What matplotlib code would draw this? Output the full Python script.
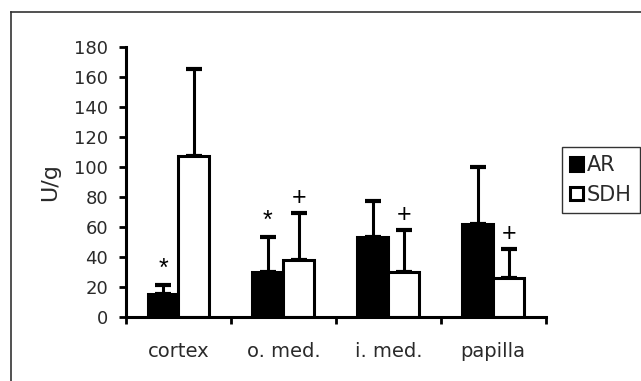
import numpy as np
import matplotlib.pyplot as plt
from matplotlib.lines import Line2D

plt.rcParams['font.family'] = ['DejaVu Sans']

regions = ['cortex', 'o. med.', 'i. med.', 'papilla']
ar_mean = [15, 30, 53, 62]
ar_err = [6, 23, 24, 38]
sdh_mean = [107, 38, 30, 26]
sdh_err = [58, 31, 28, 19]
# significance marks above each bar (None = no mark)
ar_marks = ['*', '*', None, None]
sdh_marks = [None, '+', '+', '+']

fig = plt.figure(figsize=(6.41, 3.81), dpi=100)
ax = fig.add_axes([126 / 641, 1 - 316.7 / 381, (545.7 - 126) / 641, 270 / 381])

x = np.arange(len(regions)) + 0.5
w = 0.295
lw = 2.2
txt = '#2a2a2a'

ax.bar(x - w / 2, ar_mean, w, color='black', edgecolor='black', linewidth=lw, label='AR', zorder=2)
ax.bar(x + w / 2, sdh_mean, w, color='white', edgecolor='black', linewidth=lw, label='SDH', zorder=2)

# upward-only error bars
ax.errorbar(x - w / 2, ar_mean, yerr=[np.zeros(4), ar_err], fmt='none', ecolor='black',
            elinewidth=lw, capsize=5.5, capthick=lw + 0.8, zorder=1)
ax.errorbar(x + w / 2, sdh_mean, yerr=[np.zeros(4), sdh_err], fmt='none', ecolor='black',
            elinewidth=lw, capsize=5.5, capthick=lw + 0.8, zorder=1)

for i in range(len(regions)):
    if ar_marks[i]:
        ax.text(x[i] - w / 2, ar_mean[i] + ar_err[i] + 3, ar_marks[i], ha='center', va='bottom',
                fontsize=18, color='black', family='Liberation Sans')
    if sdh_marks[i]:
        ax.text(x[i] + w / 2, sdh_mean[i] + sdh_err[i] + 2, sdh_marks[i], ha='center', va='bottom',
                fontsize=18, color='black', family='Liberation Sans', fontweight='light')

ax.set_xlim(0, 4)
ax.set_ylim(0, 180)
ax.set_yticks(np.arange(0, 181, 20))
ax.set_xticks(np.arange(0, 5))
ax.set_xticklabels([])
ax.set_xticks(x, minor=True)
ax.set_xticklabels(regions, minor=True)
ax.tick_params(axis='x', which='minor', length=0, pad=18, labelsize=14, labelcolor=txt)
ax.tick_params(axis='x', which='major', length=5, width=2, direction='out')
ax.tick_params(axis='y', length=5, width=2, direction='out', pad=8, labelsize=13, labelcolor=txt)
for s in ['top', 'right']:
    ax.spines[s].set_visible(False)
for s in ['left', 'bottom']:
    ax.spines[s].set_linewidth(2.2)

ax.set_ylabel('U/g', fontsize=16, color=txt, labelpad=10)

leg = ax.legend(loc='upper left', bbox_to_anchor=(562 / 641, 1 - 147 / 381), bbox_transform=fig.transFigure,
                frameon=True, fancybox=False, fontsize=15, handlelength=0.6, handleheight=0.6,
                handletextpad=0.2, borderpad=0.4, labelspacing=0.45, borderaxespad=0)
leg.get_frame().set_edgecolor('black')
leg.get_frame().set_linewidth(1.0)
for t in leg.get_texts():
    t.set_color(txt)

# outer frame (cut off at the right and bottom edges)
fig.add_artist(Line2D([11 / 641, 11 / 641], [0, 1 - 12 / 381], color='#333333', linewidth=1.2))
fig.add_artist(Line2D([11 / 641, 1], [1 - 12 / 381, 1 - 12 / 381], color='#333333', linewidth=1.2))

fig.savefig('out.png', dpi=100)
